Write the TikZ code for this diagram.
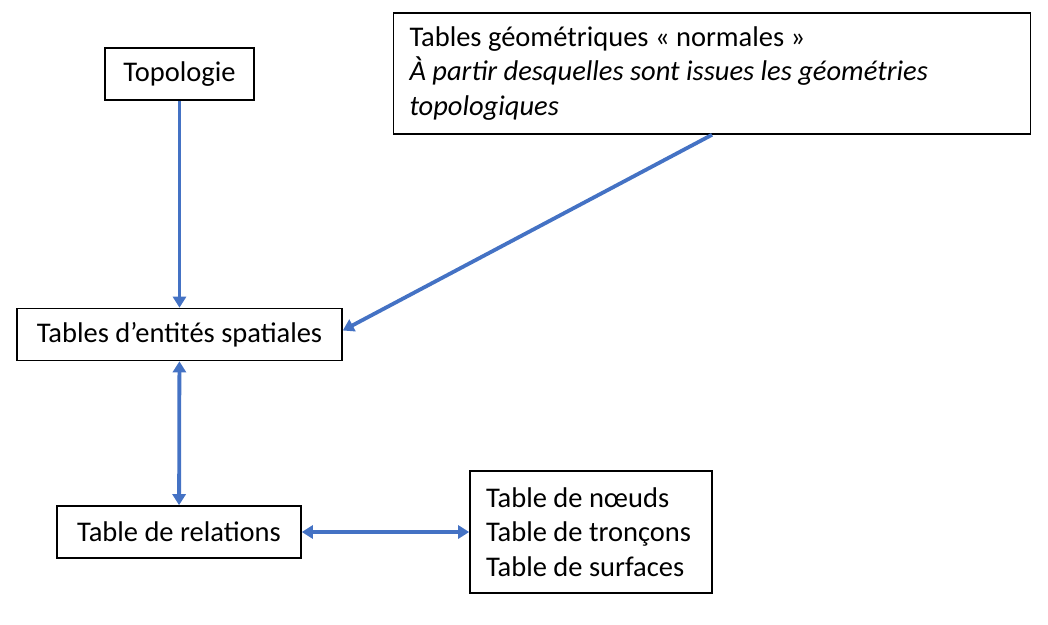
\documentclass[tikz,border=0pt]{standalone}
\usepackage{fontspec}
\setmainfont{Carlito}
\usepackage{tikz}
\usetikzlibrary{arrows.meta}
\definecolor{linkblue}{RGB}{68,114,196}

\begin{document}
\begin{tikzpicture}[x=1pt,y=1pt,font=\fontsize{28.5}{34.5}\selectfont]
    \tikzstyle{box}=[draw=black,line width=1.6pt,inner sep=0pt,minimum height=52pt]
    \tikzstyle{list box}=[box,align=flush left,inner xsep=16pt]
    \tikzstyle{link}=[draw=linkblue,line width=3.8pt,-{Triangle[width=13pt,length=11pt]}]
    \tikzstyle{both link}=[link,{Triangle[width=13pt,length=11pt]}-{Triangle[width=13pt,length=11pt]}]

    \useasboundingbox (0,0) rectangle (1048,624);

    % Draw the boxes
    \node[box,minimum width=149pt] (topo) at (179.5,550) {Topologie};
    \node[list box,text width=605pt,minimum height=121pt] (geom) at (712,550.5)
        {Tables géométriques « normales »\\
         \textit{À partir desquelles sont issues les géométries}\\
         \textit{topologiques}};
    \node[box,minimum width=325pt] (ent) at (179.5,289.5) {Tables d’entités spatiales};
    \node[box,minimum width=244pt] (rel) at (179,92) {Table de relations};
    \node[list box,text width=210pt,minimum height=122pt] (tab) at (591,92)
        {Table de nœuds\\
         Table de tronçons\\
         Table de surfaces};

    % Connect them
    \path[link] (topo) -- (ent);
    \path[link] (geom.south) -- ([yshift=4pt]ent.east);
    \path[both link] (ent) -- (rel);
    \path[both link] (rel) -- (tab);
\end{tikzpicture}
\end{document}
